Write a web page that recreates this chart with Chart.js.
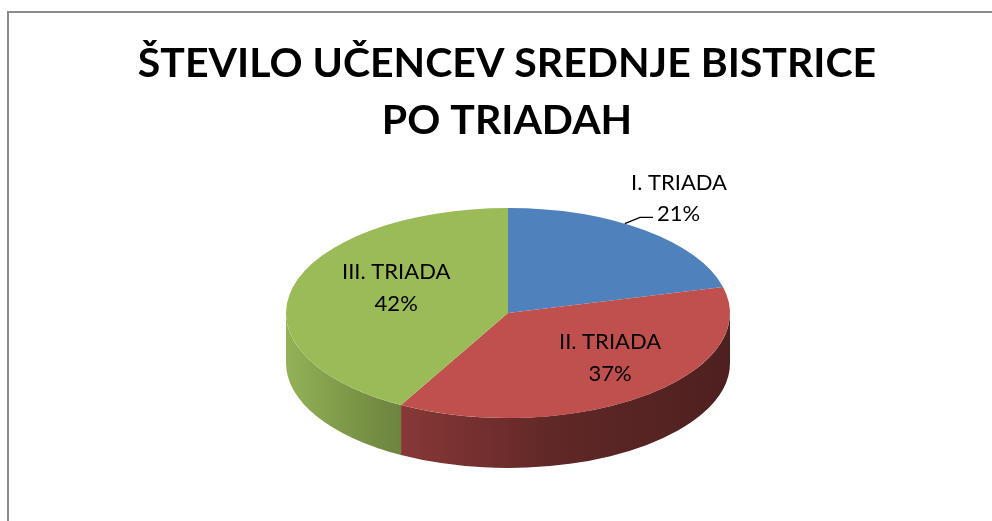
<!DOCTYPE html>
<html lang="sl">
<head>
  <meta charset="UTF-8" />
  <title>Število učencev Srednje Bistrice po triadah</title>
  <script src="https://cdn.jsdelivr.net/npm/chart.js"></script>
  <style>
    body {
      margin: 0;
      background: #ffffff;
    }
    .wrap {
      position: relative;
      width: 992px;
      height: 521px;
      overflow: hidden;
    }
    .frame {
      position: absolute;
      left: 7px;
      top: 11px;
      width: 1000px;
      height: 600px;
      border-top: 2px solid #8c8c8c;
      border-left: 2px solid #8c8c8c;
      pointer-events: none;
    }
  </style>
</head>
<body>
  <div class="wrap">
    <canvas id="pieChart"></canvas>
    <div class="frame"></div>
  </div>

  <script>
    const triade = ["I. TRIADA", "II. TRIADA", "III. TRIADA"];
    const deleži = [21, 37, 42];
    const barve = ["#4f81bd", "#c0504d", "#9bbb59"];
    const naslov = ["ŠTEVILO UČENCEV SREDNJE BISTRICE", "PO TRIADAH"];

    // kje in kako velik je "3D" krožnik na sliki
    const CX = 508, CY = 313, RX = 222, RY = 105, GLOBINA = 50;

    function temneje(hex, f) {
      const n = parseInt(hex.slice(1), 16);
      const r = Math.round(((n >> 16) & 255) * f);
      const g = Math.round(((n >> 8) & 255) * f);
      const b = Math.round((n & 255) * f);
      return "rgb(" + r + "," + g + "," + b + ")";
    }

    // odmik notranjih oznak od središča (delež polmera)
    const odmik = [null, { fx: 0.75, fy: 0.54 }, { fx: 0.52, fy: 0.98 }];

    const pie3d = {
      id: "pie3d",
      beforeDatasetsDraw(chart) {
        const ctx = chart.ctx;
        const arcs = chart.getDatasetMeta(0).data;
        const R = arcs[0].outerRadius;

        // stranice (samo sprednja polovica je vidna)
        arcs.forEach((arc, i) => {
          const a = Math.max(arc.startAngle, 0);
          const b = Math.min(arc.endAngle, Math.PI);
          if (a >= b) return;
          const grad = ctx.createLinearGradient(CX - RX, 0, CX + RX, 0);
          grad.addColorStop(0, temneje(barve[i], 0.95));
          grad.addColorStop(0.22, temneje(barve[i], 0.73));
          grad.addColorStop(0.6, temneje(barve[i], 0.5));
          grad.addColorStop(1, temneje(barve[i], 0.4));
          ctx.beginPath();
          ctx.ellipse(CX, CY, RX, RY, 0, a, b);
          ctx.ellipse(CX, CY + GLOBINA, RX, RY, 0, b, a, true);
          ctx.closePath();
          ctx.fillStyle = grad;
          ctx.fill();
        });

        // zgornja ploskev: splošči krog v elipso
        ctx.save();
        ctx.translate(CX, CY);
        ctx.scale(RX / R, RY / R);
        ctx.translate(-arcs[0].x, -arcs[0].y);
      },
      afterDatasetsDraw(chart) {
        const ctx = chart.ctx;
        ctx.restore();

        const arcs = chart.getDatasetMeta(0).data;
        const vsota = deleži.reduce((s, v) => s + v, 0);
        ctx.save();
        ctx.fillStyle = "#000000";
        ctx.font = "22px Lato";
        ctx.textBaseline = "middle";

        arcs.forEach((arc, i) => {
          const odstotek = Math.round(deleži[i] / vsota * 100) + "%";
          const sred = (arc.startAngle + arc.endAngle) / 2;
          if (i === 0) {
            // zunanja oznaka s črto
            const kot = arc.startAngle + 0.42 * (arc.endAngle - arc.startAngle);
            const px = CX + RX * Math.cos(kot);
            const py = CY + RY * Math.sin(kot);
            const tx = CX + RX * 1.095 * Math.cos(sred);
            const ty = CY + RY * 1.2 * Math.sin(sred);
            ctx.strokeStyle = "#000000";
            ctx.lineWidth = 1.3;
            ctx.beginPath();
            ctx.moveTo(px, py);
            ctx.lineTo(tx - 17, ty + 4);
            ctx.lineTo(tx - 4, ty + 4);
            ctx.stroke();
            ctx.textAlign = "left";
            ctx.fillText(odstotek, tx, ty);
            ctx.textAlign = "center";
            ctx.fillText(triade[i], tx + 22, ty - 31);
          } else {
            const x = CX + RX * odmik[i].fx * Math.cos(sred);
            const y = CY + RY * odmik[i].fy * Math.sin(sred);
            ctx.textAlign = "center";
            ctx.fillText(triade[i], x, y - 16);
            ctx.fillText(odstotek, x, y + 16);
          }
        });
        ctx.restore();
      }
    };

    new Chart(document.getElementById("pieChart"), {
      type: "pie",
      data: {
        labels: triade,
        datasets: [{
          data: deleži,
          backgroundColor: barve,
          borderWidth: 0
        }]
      },
      options: {
        responsive: true,
        maintainAspectRatio: false,
        animation: false,
        layout: { padding: { left: 22, top: 35, bottom: 10 } },
        plugins: {
          legend: { display: false },
          tooltip: { enabled: false },
          title: {
            display: true,
            text: naslov,
            color: "#000000",
            font: { family: "Lato", size: 41, weight: "bold", lineHeight: 1.4 },
            padding: { top: 0, bottom: 10 }
          }
        }
      },
      plugins: [pie3d]
    });
  </script>
</body>
</html>
